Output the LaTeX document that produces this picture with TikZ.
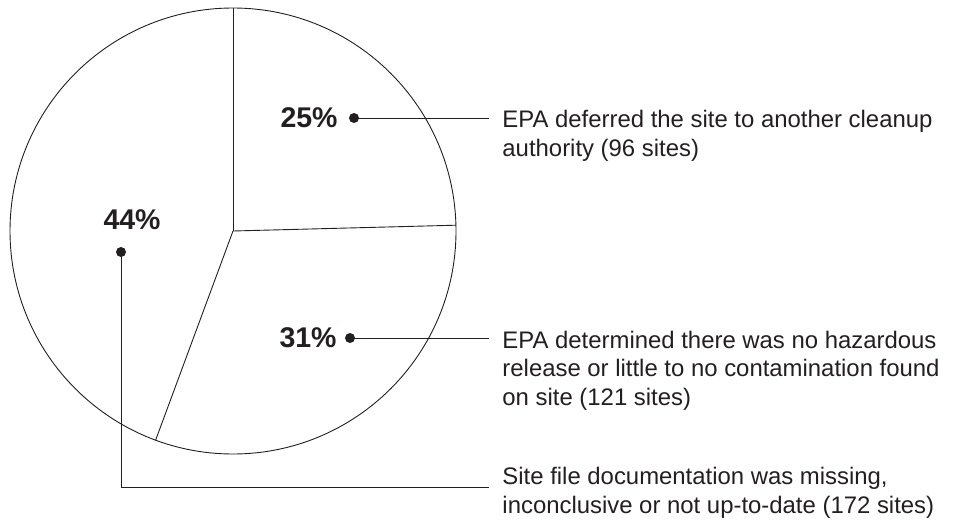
\documentclass[tikz,border=0pt]{standalone}
\usepackage{fontspec}
\setmainfont{Liberation Sans}
\definecolor{ink}{RGB}{35,31,32}
\begin{document}
\begin{tikzpicture}[x=1pt,y=-1pt,
  line width=0.9pt, draw=ink,
  dot/.style={circle,fill=ink,inner sep=0pt,minimum size=10pt},
  pct/.style={anchor=base east,inner sep=0pt,text=ink,font=\fontsize{28.5}{30}\selectfont\bfseries},
  desc/.style={anchor=base west,inner sep=0pt,align=left,text=ink,font=\fontsize{23.9}{28.5}\selectfont}]
\useasboundingbox (0,0) rectangle (957,524);
% pie
\coordinate (c) at (233,231);
\coordinate (p1) at (233,8);
\coordinate (p2) at (455.9,225.2);
\coordinate (p3) at (155.6,440.2);
\draw[ink] (c) circle[radius=223];
\draw[ink] (c) -- (p1);
\draw[ink] (c) -- (p2);
\draw[ink] (c) -- (p3);
% labels
\node[pct] (l25) at (338,128) {25\%};
\node[pct] (l31) at (337,347) {31\%};
\node[pct] (l44) at (161,229) {44\%};
\node[dot] (d25) at (354,118) {};
\node[dot] (d31) at (350,338) {};
\node[dot] (d44) at (121,252) {};
\coordinate (e25) at (489,118);
\coordinate (e31) at (489,338);
\coordinate (e44) at (489,487);
\draw[ink] (d25.center) -- (e25);
\draw[ink] (d31.center) -- (e31);
\draw[ink] (d44.center) |- (e44);
\node[desc] (t25) at (502,156.5) {EPA deferred the site to another cleanup\\authority (96 sites)};
\node[desc] (t31) at (502,405) {EPA determined there was no hazardous\\release or little to no contamination found\\on site (121 sites)};
\node[desc] (t44) at (502,513) {Site file documentation was missing,\\inconclusive or not up-to-date (172 sites)};
\end{tikzpicture}
\end{document}
